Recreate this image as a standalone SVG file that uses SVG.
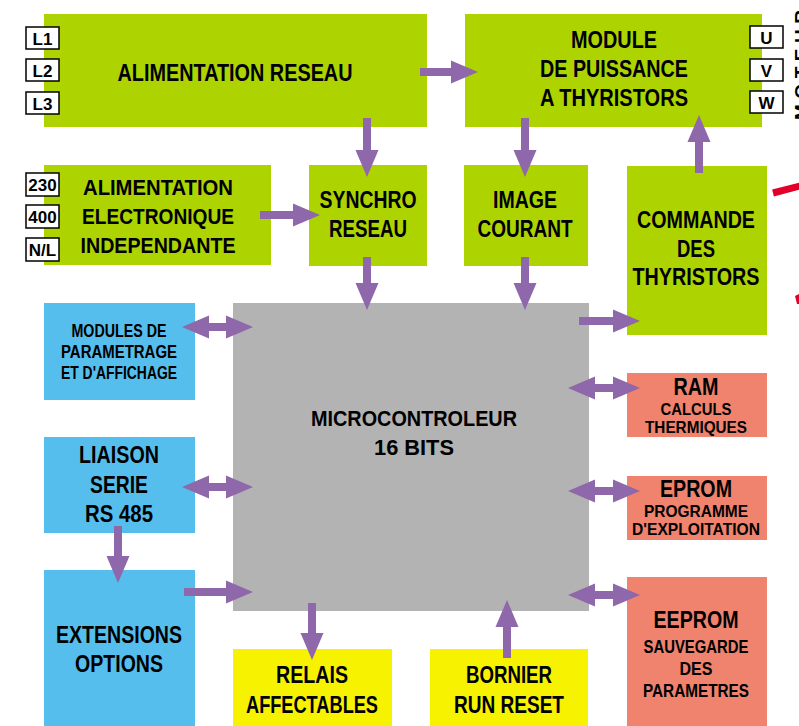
<svg xmlns="http://www.w3.org/2000/svg" width="799" height="726" viewBox="0 0 799 726">
<style>
.g{fill:#ADD400}.b{fill:#55BEEC}.gr{fill:#B3B3B3}.s{fill:#EF836E}.y{fill:#F7F200}
text{font-family:"Liberation Sans Narrow","Liberation Sans",Arial,sans-serif;font-weight:bold;fill:#000;text-anchor:middle}
.t22{font-size:23.5px}.t21{font-size:22px}.t18{font-size:19px}.t17{font-size:16.5px}.t16{font-size:17px}
.sb{fill:#fff;stroke:#000;stroke-width:1.5}
.a{stroke:#8E68AA;stroke-width:8;fill:none}
.one{marker-end:url(#h)}
.two{marker-end:url(#h);marker-start:url(#h)}
</style>
<defs>
<marker id="h" markerUnits="userSpaceOnUse" viewBox="0 -11.5 27 23" refX="0" refY="0" markerWidth="27" markerHeight="23" orient="auto-start-reverse" overflow="visible">
<path d="M0,-11.5 L27,0 L0,11.5 Z" fill="#8E68AA"/>
</marker>
</defs>

<g id="alim-reseau">
<rect class="g" x="44" y="14" width="383" height="113"/>
<text class="t22" x="235" y="81" textLength="235" lengthAdjust="spacingAndGlyphs">ALIMENTATION RESEAU</text>
<rect class="sb" x="26" y="27" width="33" height="22"/><text class="t16" x="42.5" y="44.5">L1</text>
<rect class="sb" x="26" y="59" width="33" height="22"/><text class="t16" x="42.5" y="76.5">L2</text>
<rect class="sb" x="26" y="92" width="33" height="22"/><text class="t16" x="42.5" y="109.5">L3</text>
</g>

<g id="module-puissance">
<rect class="g" x="465" y="14" width="297" height="113"/>
<text class="t22" x="614" y="48" textLength="86" lengthAdjust="spacingAndGlyphs">MODULE</text>
<text class="t22" x="614" y="77" textLength="148" lengthAdjust="spacingAndGlyphs">DE PUISSANCE</text>
<text class="t22" x="614" y="106" textLength="148" lengthAdjust="spacingAndGlyphs">A THYRISTORS</text>
<rect class="sb" x="750" y="26" width="33" height="22"/><text class="t16" x="766.5" y="43.5">U</text>
<rect class="sb" x="750" y="59" width="33" height="22"/><text class="t16" x="766.5" y="76.5">V</text>
<rect class="sb" x="750" y="91" width="33" height="22"/><text class="t16" x="766.5" y="108.5">W</text>
</g>

<g id="moteur">
<text class="t18" transform="translate(808,120) rotate(-90)" style="text-anchor:start" textLength="110" lengthAdjust="spacing">MOTEUR</text>
<line x1="773" y1="193" x2="800" y2="186" stroke="#E2002A" stroke-width="7"/>
<polygon points="795,296 799,294 799,304 797,304" fill="#E2002A"/>
</g>

<g id="alim-electronique">
<rect class="g" x="44" y="165" width="227" height="100"/>
<text class="t21" x="158" y="195" textLength="150" lengthAdjust="spacingAndGlyphs">ALIMENTATION</text>
<text class="t21" x="158" y="224" textLength="152" lengthAdjust="spacingAndGlyphs">ELECTRONIQUE</text>
<text class="t21" x="158" y="253" textLength="155" lengthAdjust="spacingAndGlyphs">INDEPENDANTE</text>
<rect class="sb" x="26" y="173" width="33" height="23"/><text class="t16" x="42.5" y="191">230</text>
<rect class="sb" x="26" y="205" width="33" height="23"/><text class="t16" x="42.5" y="223">400</text>
<rect class="sb" x="26" y="238" width="33" height="23"/><text class="t16" x="42.5" y="256">N/L</text>
</g>

<g id="synchro">
<rect class="g" x="309" y="165" width="118" height="101"/>
<text class="t22" x="368" y="208" textLength="97" lengthAdjust="spacingAndGlyphs">SYNCHRO</text>
<text class="t22" x="368" y="237" textLength="78" lengthAdjust="spacingAndGlyphs">RESEAU</text>
</g>

<g id="image-courant">
<rect class="g" x="464" y="165" width="124" height="101"/>
<text class="t22" x="525" y="208" textLength="64" lengthAdjust="spacingAndGlyphs">IMAGE</text>
<text class="t22" x="525" y="237" textLength="95" lengthAdjust="spacingAndGlyphs">COURANT</text>
</g>

<g id="commande">
<rect class="g" x="627" y="166" width="140" height="169"/>
<text class="t22" x="696" y="228" textLength="118" lengthAdjust="spacingAndGlyphs">COMMANDE</text>
<text class="t22" x="696" y="257" textLength="38" lengthAdjust="spacingAndGlyphs">DES</text>
<text class="t22" x="696" y="285" textLength="127" lengthAdjust="spacingAndGlyphs">THYRISTORS</text>
</g>

<g id="modules-parametrage">
<rect class="b" x="44" y="303" width="151" height="97"/>
<text class="t18" x="119" y="337" textLength="95" lengthAdjust="spacingAndGlyphs">MODULES DE</text>
<text class="t18" x="119" y="358" textLength="116" lengthAdjust="spacingAndGlyphs">PARAMETRAGE</text>
<text class="t18" x="119" y="379" textLength="116" lengthAdjust="spacingAndGlyphs">ET D'AFFICHAGE</text>
</g>

<g id="microcontroleur">
<rect class="gr" x="233" y="303" width="356" height="308"/>
<text class="t21" x="414" y="426" textLength="206" lengthAdjust="spacingAndGlyphs">MICROCONTROLEUR</text>
<text class="t21" x="414" y="455" textLength="80" lengthAdjust="spacingAndGlyphs">16 BITS</text>
</g>

<g id="ram">
<rect class="s" x="627" y="373" width="140" height="64"/>
<text class="t22" x="696" y="395" textLength="45" lengthAdjust="spacingAndGlyphs">RAM</text>
<text class="t17" x="696" y="415" textLength="71" lengthAdjust="spacingAndGlyphs">CALCULS</text>
<text class="t17" x="696" y="433" textLength="102" lengthAdjust="spacingAndGlyphs">THERMIQUES</text>
</g>

<g id="eprom">
<rect class="s" x="627" y="476" width="140" height="64"/>
<text class="t22" x="696" y="497" textLength="72" lengthAdjust="spacingAndGlyphs">EPROM</text>
<text class="t17" x="696" y="517" textLength="104" lengthAdjust="spacingAndGlyphs">PROGRAMME</text>
<text class="t17" x="696" y="535" textLength="128" lengthAdjust="spacingAndGlyphs">D'EXPLOITATION</text>
</g>

<g id="eeprom">
<rect class="s" x="627" y="577" width="140" height="149"/>
<text class="t22" x="696" y="628" textLength="85" lengthAdjust="spacingAndGlyphs">EEPROM</text>
<text class="t18" x="696" y="653" textLength="105" lengthAdjust="spacingAndGlyphs">SAUVEGARDE</text>
<text class="t18" x="696" y="675" textLength="33" lengthAdjust="spacingAndGlyphs">DES</text>
<text class="t18" x="696" y="697" textLength="106" lengthAdjust="spacingAndGlyphs">PARAMETRES</text>
</g>

<g id="liaison-serie">
<rect class="b" x="44" y="437" width="151" height="96"/>
<text class="t22" x="119" y="463" textLength="80" lengthAdjust="spacingAndGlyphs">LIAISON</text>
<text class="t22" x="119" y="493" textLength="58" lengthAdjust="spacingAndGlyphs">SERIE</text>
<text class="t22" x="119" y="522" textLength="68" lengthAdjust="spacingAndGlyphs">RS 485</text>
</g>

<g id="extensions">
<rect class="b" x="44" y="570" width="151" height="156"/>
<text class="t22" x="119" y="643" textLength="126" lengthAdjust="spacingAndGlyphs">EXTENSIONS</text>
<text class="t22" x="119" y="672" textLength="88" lengthAdjust="spacingAndGlyphs">OPTIONS</text>
</g>

<g id="relais">
<rect class="y" x="233" y="649" width="159" height="77"/>
<text class="t22" x="312" y="683" textLength="72" lengthAdjust="spacingAndGlyphs">RELAIS</text>
<text class="t22" x="312" y="713" textLength="132" lengthAdjust="spacingAndGlyphs">AFFECTABLES</text>
</g>

<g id="bornier">
<rect class="y" x="430" y="649" width="158" height="77"/>
<text class="t22" x="509" y="683" textLength="86" lengthAdjust="spacingAndGlyphs">BORNIER</text>
<text class="t22" x="509" y="713" textLength="110" lengthAdjust="spacingAndGlyphs">RUN RESET</text>
</g>

<g id="connectors">
<line class="a one" x1="420" y1="72" x2="451" y2="72"/>
<line class="a one" x1="367" y1="118" x2="367" y2="150"/>
<line class="a one" x1="525" y1="118" x2="525" y2="150"/>
<line class="a one" x1="699" y1="173" x2="699" y2="142"/>
<line class="a one" x1="260" y1="215" x2="293" y2="215"/>
<line class="a one" x1="367" y1="257" x2="367" y2="283"/>
<line class="a one" x1="525" y1="257" x2="525" y2="283"/>
<line class="a one" x1="579" y1="321" x2="613" y2="321"/>
<line class="a two" x1="209" y1="327" x2="226" y2="327"/>
<line class="a two" x1="209" y1="487" x2="226" y2="487"/>
<line class="a one" x1="118" y1="526" x2="118" y2="556"/>
<line class="a one" x1="184" y1="592" x2="226" y2="592"/>
<line class="a one" x1="312" y1="603" x2="312" y2="633"/>
<line class="a one" x1="507" y1="658" x2="507" y2="627"/>
<line class="a two" x1="595" y1="388" x2="613" y2="388"/>
<line class="a two" x1="595" y1="491" x2="613" y2="491"/>
<line class="a two" x1="595" y1="595" x2="613" y2="595"/>
</g>
</svg>
